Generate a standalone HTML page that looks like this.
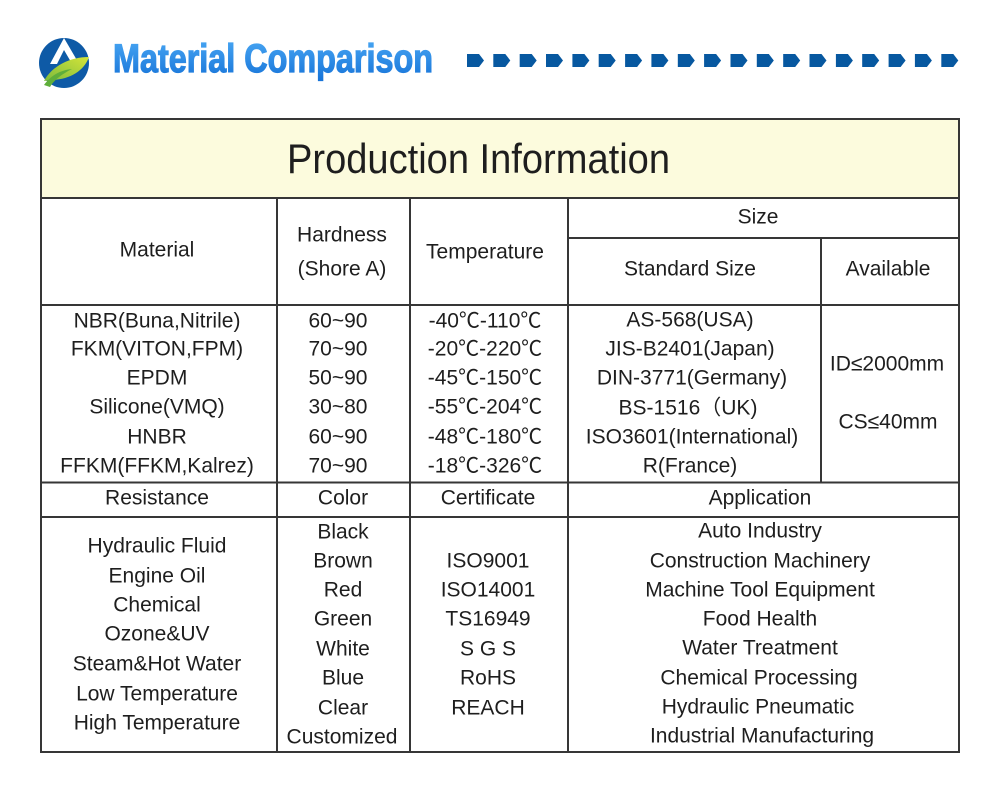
<!DOCTYPE html>
<html>
<head>
<meta charset="utf-8">
<style>
  html,body{margin:0;padding:0;background:#fff;}
  svg{display:block;}
  text{font-family:"Liberation Sans","Noto Sans CJK SC",sans-serif;fill:#1e1e1e;}
</style>
</head>
<body>
<svg width="998" height="797" viewBox="0 0 998 797" xmlns="http://www.w3.org/2000/svg">
  <defs>
    <linearGradient id="tg" x1="0" y1="0" x2="0" y2="1">
      <stop offset="0" stop-color="#4aa8f4"/>
      <stop offset="1" stop-color="#1673d8"/>
    </linearGradient>
    <linearGradient id="lg" x1="0" y1="1" x2="1" y2="0">
      <stop offset="0" stop-color="#7dbb3c"/>
      <stop offset="1" stop-color="#d4e43a"/>
    </linearGradient>
  </defs>
  <rect width="998" height="797" fill="#fff"/>

  <!-- Logo -->
  <circle cx="64" cy="63" r="25" fill="#0e5aa6"/>
  <polygon points="64,38 78,62 71,62 64,50 57,64 50,64" fill="#fff"/>
  <path d="M44,81 C52,66 70,57 89,57 C84,71 70,79 53,80 Z" fill="url(#lg)"/>
  <path d="M44,85 C52,74 62,70 72,69 C62,74 54,80 50,87 Z" fill="#5fae3a"/>

  <!-- Heading -->
  <text x="113" y="72" font-size="40" font-weight="bold" textLength="320" lengthAdjust="spacingAndGlyphs" style="fill:url(#tg);stroke:url(#tg);stroke-width:1.2">Material Comparison</text>

  <!-- Arrows -->
  <g fill="#0758a0">
    <polygon points="467,54 479,54 484,60.5 479,67 467,67"/>
    <polygon points="493.3,54 505.3,54 510.3,60.5 505.3,67 493.3,67"/>
    <polygon points="519.7,54 531.7,54 536.7,60.5 531.7,67 519.7,67"/>
    <polygon points="546,54 558,54 563,60.5 558,67 546,67"/>
    <polygon points="572.4,54 584.4,54 589.4,60.5 584.4,67 572.4,67"/>
    <polygon points="598.7,54 610.7,54 615.7,60.5 610.7,67 598.7,67"/>
    <polygon points="625.1,54 637.1,54 642.1,60.5 637.1,67 625.1,67"/>
    <polygon points="651.4,54 663.4,54 668.4,60.5 663.4,67 651.4,67"/>
    <polygon points="677.8,54 689.8,54 694.8,60.5 689.8,67 677.8,67"/>
    <polygon points="704.1,54 716.1,54 721.1,60.5 716.1,67 704.1,67"/>
    <polygon points="730.5,54 742.5,54 747.5,60.5 742.5,67 730.5,67"/>
    <polygon points="756.8,54 768.8,54 773.8,60.5 768.8,67 756.8,67"/>
    <polygon points="783.2,54 795.2,54 800.2,60.5 795.2,67 783.2,67"/>
    <polygon points="809.5,54 821.5,54 826.5,60.5 821.5,67 809.5,67"/>
    <polygon points="835.9,54 847.9,54 852.9,60.5 847.9,67 835.9,67"/>
    <polygon points="862.2,54 874.2,54 879.2,60.5 874.2,67 862.2,67"/>
    <polygon points="888.6,54 900.6,54 905.6,60.5 900.6,67 888.6,67"/>
    <polygon points="914.9,54 926.9,54 931.9,60.5 926.9,67 914.9,67"/>
    <polygon points="941.3,54 953.3,54 958.3,60.5 953.3,67 941.3,67"/>
  </g>

  <!-- Table -->
  <rect x="41" y="119" width="918" height="79" fill="#fcfbdd"/>
  <g stroke="#363636" stroke-width="2" fill="none">
    <rect x="41" y="119" width="918" height="633"/>
    <line x1="41" y1="198" x2="959" y2="198"/>
    <line x1="568" y1="238" x2="959" y2="238"/>
    <line x1="41" y1="305" x2="959" y2="305"/>
    <line x1="41" y1="482.5" x2="959" y2="482.5"/>
    <line x1="41" y1="517" x2="959" y2="517"/>
    <line x1="277" y1="198" x2="277" y2="752"/>
    <line x1="410" y1="198" x2="410" y2="752"/>
    <line x1="568" y1="198" x2="568" y2="752"/>
    <line x1="821" y1="238" x2="821" y2="482.5"/>
  </g>

  <text x="287" y="173" font-size="42" textLength="383" lengthAdjust="spacingAndGlyphs">Production Information</text>

  <g font-size="21" text-anchor="middle" dominant-baseline="central">
    <!-- headers -->
    <text x="157" y="250">Material</text>
    <text x="342" y="235">Hardness</text>
    <text x="342" y="269">(Shore A)</text>
    <text x="485" y="252">Temperature</text>
    <text x="758" y="217">Size</text>
    <text x="690" y="269">Standard Size</text>
    <text x="888" y="269">Available</text>

    <!-- materials -->
    <text x="157" y="321">NBR(Buna,Nitrile)</text>
    <text x="157" y="349">FKM(VITON,FPM)</text>
    <text x="157" y="378">EPDM</text>
    <text x="157" y="407">Silicone(VMQ)</text>
    <text x="157" y="437">HNBR</text>
    <text x="157" y="466">FFKM(FFKM,Kalrez)</text>

    <text x="338" y="321">60~90</text>
    <text x="338" y="349">70~90</text>
    <text x="338" y="378">50~90</text>
    <text x="338" y="407">30~80</text>
    <text x="338" y="437">60~90</text>
    <text x="338" y="466">70~90</text>

    <text x="485" y="321">-40℃-110℃</text>
    <text x="485" y="349">-20℃-220℃</text>
    <text x="485" y="378">-45℃-150℃</text>
    <text x="485" y="407">-55℃-204℃</text>
    <text x="485" y="437">-48℃-180℃</text>
    <text x="485" y="466">-18℃-326℃</text>

    <text x="690" y="320">AS-568(USA)</text>
    <text x="690" y="349">JIS-B2401(Japan)</text>
    <text x="692" y="378">DIN-3771(Germany)</text>
    <text x="688" y="408">BS-1516（UK)</text>
    <text x="692" y="437">ISO3601(International)</text>
    <text x="690" y="466">R(France)</text>

    <text x="887" y="364">ID≤2000mm</text>
    <text x="888" y="422">CS≤40mm</text>

    <!-- second header -->
    <text x="157" y="498">Resistance</text>
    <text x="343" y="498">Color</text>
    <text x="488" y="498">Certificate</text>
    <text x="760" y="498">Application</text>

    <!-- resistance -->
    <text x="157" y="546">Hydraulic Fluid</text>
    <text x="157" y="576">Engine Oil</text>
    <text x="157" y="605">Chemical</text>
    <text x="157" y="634">Ozone&amp;UV</text>
    <text x="157" y="664">Steam&amp;Hot Water</text>
    <text x="157" y="694">Low Temperature</text>
    <text x="157" y="723">High Temperature</text>

    <!-- colors -->
    <text x="343" y="532">Black</text>
    <text x="343" y="561">Brown</text>
    <text x="343" y="590">Red</text>
    <text x="343" y="619">Green</text>
    <text x="343" y="649">White</text>
    <text x="343" y="678">Blue</text>
    <text x="343" y="708">Clear</text>
    <text x="342" y="737">Customized</text>

    <!-- certificates -->
    <text x="488" y="561">ISO9001</text>
    <text x="488" y="590">ISO14001</text>
    <text x="488" y="619">TS16949</text>
    <text x="488" y="649">S G S</text>
    <text x="488" y="678">RoHS</text>
    <text x="488" y="708">REACH</text>

    <!-- applications -->
    <text x="760" y="531">Auto Industry</text>
    <text x="760" y="561">Construction Machinery</text>
    <text x="760" y="590">Machine Tool Equipment</text>
    <text x="760" y="619">Food Health</text>
    <text x="760" y="648">Water Treatment</text>
    <text x="759" y="678">Chemical Processing</text>
    <text x="758" y="707">Hydraulic Pneumatic</text>
    <text x="762" y="736">Industrial Manufacturing</text>
  </g>
</svg>
</body>
</html>
